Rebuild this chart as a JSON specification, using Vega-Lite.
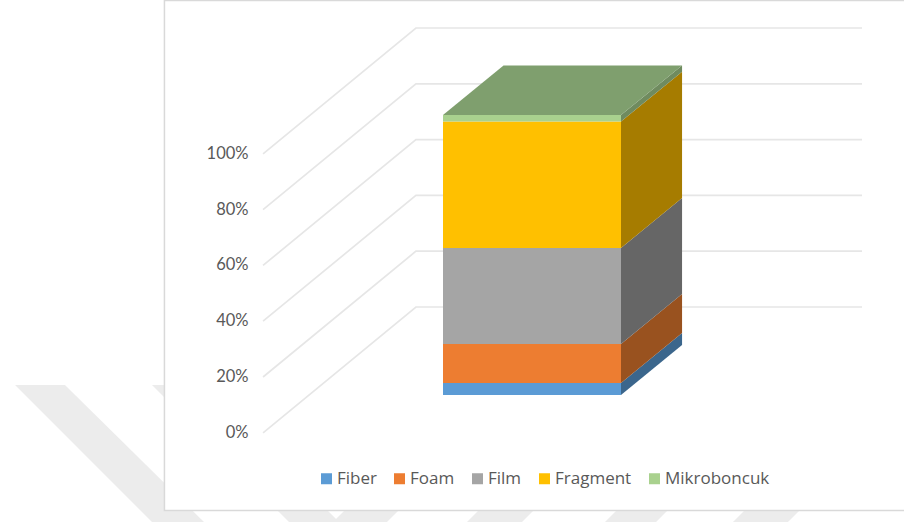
{"$schema":"https://vega.github.io/schema/vega-lite/v6.json","width":904,"height":522,"padding":0,"autosize":{"type":"fit","contains":"padding"},"background":"white","config":{"view":{"stroke":null},"font":"Lato"},
"datasets":{
"bands":[
{"band":"A","y":17.13,"left":-2.404,"right":-2.124},{"band":"A","y":-31.97,"left":-1.635,"right":-1.343},
{"band":"B","y":17.13,"left":-1.635,"right":-1.354},{"band":"B","y":-31.97,"left":-0.865,"right":-0.584},
{"band":"C","y":-25.88,"left":-0.522,"right":-0.219},{"band":"C","y":-31.97,"left":-0.618,"right":-0.315},
{"band":"D","y":-25.88,"left":0.23,"right":0.539},{"band":"D","y":-31.97,"left":0.135,"right":0.444},
{"band":"E","y":-25.88,"left":1.006,"right":1.292},{"band":"E","y":-31.97,"left":0.91,"right":1.197},
{"band":"F","y":-25.88,"left":1.725,"right":2.034},{"band":"F","y":-31.97,"left":1.629,"right":1.938}],
"panel":[{"left":-1.565,"right":2.7,"bottom":-27.85,"top":154.95}],
"grid":[
{"tick":0,"pos":-1.011,"level":0},{"tick":0,"pos":-0.152,"level":45.09},{"tick":0,"pos":2.354,"level":45.09},
{"tick":20,"pos":-1.011,"level":20},{"tick":20,"pos":-0.152,"level":65.09},{"tick":20,"pos":2.354,"level":65.09},
{"tick":40,"pos":-1.011,"level":40},{"tick":40,"pos":-0.152,"level":85.09},{"tick":40,"pos":2.354,"level":85.09},
{"tick":60,"pos":-1.011,"level":60},{"tick":60,"pos":-0.152,"level":105.09},{"tick":60,"pos":2.354,"level":105.09},
{"tick":80,"pos":-1.011,"level":80},{"tick":80,"pos":-0.152,"level":125.09},{"tick":80,"pos":2.354,"level":125.09},
{"tick":100,"pos":-1.011,"level":100},{"tick":100,"pos":-0.152,"level":145.09},{"tick":100,"pos":2.354,"level":145.09}],
"front":[
{"series":"Fiber","lower":0,"upper":4.29},
{"series":"Foam","lower":4.29,"upper":18.2},
{"series":"Film","lower":18.2,"upper":52.5},
{"series":"Fragment","lower":52.5,"upper":97.68},
{"series":"Mikroboncuk","lower":97.68,"upper":100}],
"side":[
{"series":"Fiber","depth":1,"lower":0,"upper":4.29},{"series":"Fiber","depth":1.343,"lower":17.86,"upper":22.14},
{"series":"Foam","depth":1,"lower":4.29,"upper":18.2},{"series":"Foam","depth":1.343,"lower":22.14,"upper":36.07},
{"series":"Film","depth":1,"lower":18.2,"upper":52.5},{"series":"Film","depth":1.343,"lower":36.07,"upper":70.36},
{"series":"Fragment","depth":1,"lower":52.5,"upper":97.68},{"series":"Fragment","depth":1.343,"lower":70.36,"upper":115.46},
{"series":"Mikroboncuk","depth":1,"lower":97.68,"upper":100},{"series":"Mikroboncuk","depth":1.343,"lower":115.46,"upper":117.68}],
"topface":[
{"depth":0,"lower":100,"upper":100},{"depth":0.34,"lower":100,"upper":117.68},{"depth":1,"lower":100,"upper":117.68},{"depth":1.343,"lower":117.68,"upper":117.68}]
},
"resolve":{"scale":{"y":"independent","color":"independent"},"axis":{"y":"independent"}},
"layer":[
{"data":{"name":"bands"},"mark":{"type":"area","color":"#ececec","orient":"horizontal"},"encoding":{
"x":{"field":"left","type":"quantitative","scale":{"domain":[-2.4888,2.5899],"nice":false,"zero":false},"axis":null},
"x2":{"field":"right"},
"y":{"field":"y","type":"quantitative","scale":{"domain":[-31.97,155.13],"nice":false,"zero":false},"axis":null},
"detail":{"field":"band"}}},
{"data":{"name":"panel"},"mark":{"type":"rect","fill":"white","stroke":"#d9d9d9","strokeWidth":1.5,"clip":true},"encoding":{
"x":{"field":"left","type":"quantitative","scale":{"domain":[-2.4888,2.5899],"nice":false,"zero":false},"axis":null},
"x2":{"field":"right"},
"y":{"field":"bottom","type":"quantitative","scale":{"domain":[-31.97,155.13],"nice":false,"zero":false},"axis":null},
"y2":{"field":"top"}}},
{"data":{"name":"grid"},"mark":{"type":"line","color":"#e6e6e6","strokeWidth":1.7},"encoding":{
"x":{"field":"pos","type":"quantitative","sort":null,"scale":{"domain":[-2.4888,2.5899],"nice":false,"zero":false},"axis":null},
"y":{"field":"level","type":"quantitative","scale":{"domain":[-31.97,155.13],"nice":false,"zero":false},
"axis":{"orient":"left","offset":-252,"zindex":1,"title":null,"values":[0,20,40,60,80,100],"labelExpr":"datum.value + '%'","domain":false,"ticks":false,"grid":false,"labelPadding":4,"labelFont":"Lato","labelFontSize":16.5,"labelColor":"#595959","labelOffset":-0.5,"labelBound":false,"labelFlush":false}},
"detail":{"field":"tick"}}},
{"data":{"name":"side"},"mark":{"type":"area"},"encoding":{
"x":{"field":"depth","type":"quantitative","scale":{"domain":[-2.4888,2.5899],"nice":false,"zero":false},"axis":null},
"y":{"field":"lower","type":"quantitative","scale":{"domain":[-45.36,141.07],"nice":false,"zero":false},"axis":null},
"y2":{"field":"upper"},
"color":{"field":"series","type":"nominal","legend":null,"scale":{"domain":["Fiber","Foam","Film","Fragment","Mikroboncuk"],"range":["#3b668c","#99521f","#666666","#a67c00","#6f8b5f"]}}}},
{"data":{"name":"topface"},"mark":{"type":"area","color":"#7f9f6e"},"encoding":{
"x":{"field":"depth","type":"quantitative","scale":{"domain":[-2.4888,2.5899],"nice":false,"zero":false},"axis":null},
"y":{"field":"lower","type":"quantitative","scale":{"domain":[-45.36,141.07],"nice":false,"zero":false},"axis":null},
"y2":{"field":"upper"}}},
{"data":{"name":"front"},"mark":{"type":"rect"},"encoding":{
"x":{"datum":0,"type":"quantitative","scale":{"domain":[-2.4888,2.5899],"nice":false,"zero":false},"axis":null},
"x2":{"datum":1},
"y":{"field":"lower","type":"quantitative","scale":{"domain":[-45.36,141.07],"nice":false,"zero":false},"axis":null},
"y2":{"field":"upper"},
"color":{"field":"series","type":"nominal","scale":{"domain":["Fiber","Foam","Film","Fragment","Mikroboncuk"],"range":["#5b9bd5","#ed7d31","#a5a5a5","#ffc000","#a9d18e"]},
"legend":{"orient":"none","legendX":318,"legendY":470,"direction":"horizontal","columns":5,"title":null,"symbolType":"square","symbolSize":121,"symbolStrokeWidth":0,"labelFont":"Open Sans","labelFontSize":17,"labelColor":"#595959","labelOffset":2,"columnPadding":14,"padding":0}}}}
]}
